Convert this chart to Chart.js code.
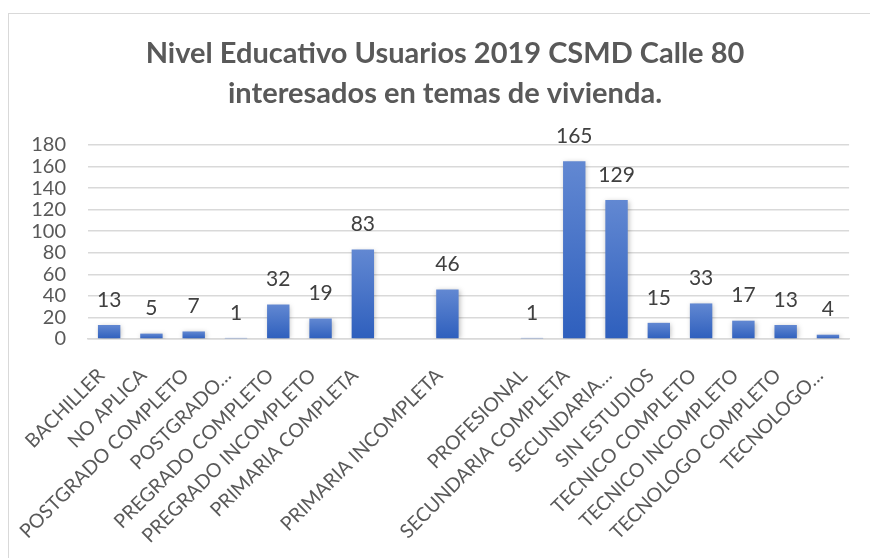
<!DOCTYPE html>
<html>
<head>
<meta charset="utf-8">
<script src="https://cdn.jsdelivr.net/npm/chart.js@4"></script>
<style>
  html, body { margin: 0; padding: 0; background: #fff; }
  #wrap { position: relative; width: 870px; height: 558px; }
  #frame { position: absolute; left: 8px; top: 13px; width: 880px; height: 560px; border: 1px solid #d9d9d9; }
  canvas { position: absolute; left: 0; top: 0; }
</style>
</head>
<body>
<div id="wrap">
  <div id="frame"></div>
  <canvas id="nivel" width="870" height="558"></canvas>
</div>
<script>
const categorias = [
  "BACHILLER", "NO APLICA", "POSTGRADO COMPLETO", "POSTGRADO…",
  "PREGRADO COMPLETO", "PREGRADO INCOMPLETO", "PRIMARIA COMPLETA", "",
  "PRIMARIA INCOMPLETA", "", "PROFESIONAL", "SECUNDARIA COMPLETA",
  "SECUNDARIA…", "SIN ESTUDIOS", "TECNICO COMPLETO", "TECNICO INCOMPLETO",
  "TECNOLOGO COMPLETO", "TECNOLOGO…"
]
const usuarios = [13, 5, 7, 1, 32, 19, 83, null, 46, null, 1, 165, 129, 15, 33, 17, 13, 4]
const yTicks = [0, 20, 40, 60, 80, 100, 120, 140, 160, 180]
const titulo = ["Nivel Educativo Usuarios 2019 CSMD Calle 80", "interesados en temas de vivienda."]

const fontFam = "Lato, 'Open Sans', sans-serif"

// per-bar vertical gradient like the Excel fill
function barFill(ctx) {
  const chart = ctx.chart
  const v = ctx.raw
  if (!chart.chartArea || v == null) return '#4472c4'
  const y = chart.scales.y
  const top = y.getPixelForValue(v)
  const base = y.getPixelForValue(0)
  const g = chart.ctx.createLinearGradient(0, top, 0, base)
  g.addColorStop(0, '#6288d2')
  g.addColorStop(1, '#2e5fbd')
  return g
}

const valueLabels = {
  id: 'valueLabels',
  afterDatasetsDraw(chart) {
    const c = chart.ctx
    const meta = chart.getDatasetMeta(0)
    c.save()
    c.font = "21px " + fontFam
    c.fillStyle = '#404040'
    c.textAlign = 'center'
    c.textBaseline = 'middle'
    meta.data.forEach(function(bar, i) {
      const v = usuarios[i]
      if (v == null) return
      c.fillText(String(v), bar.x, bar.y - 25)
    })
    c.restore()
  }
}

// title centred on the outer chart frame, not on the canvas
const frameTitle = {
  id: 'frameTitle',
  afterDraw(chart) {
    const c = chart.ctx
    c.save()
    c.font = "bold 29px " + fontFam
    c.fillStyle = '#595959'
    c.textAlign = 'center'
    c.textBaseline = 'middle'
    titulo.forEach(function(line, i) {
      c.fillText(line, 445, 54 + i * 40)
    })
    c.restore()
  }
}

const barShadow = {
  id: 'barShadow',
  beforeDatasetsDraw(chart) {
    const c = chart.ctx
    c.save()
    c.shadowColor = 'rgba(0,0,0,0.28)'
    c.shadowBlur = 5
    c.shadowOffsetX = 1
    c.shadowOffsetY = 1
  },
  afterDatasetsDraw(chart) {
    chart.ctx.restore()
  }
}

const config = {
  type: 'bar',
  data: {
    labels: categorias,
    datasets: [{
      data: usuarios,
      backgroundColor: barFill,
      borderWidth: 0,
      barPercentage: 0.53,
      categoryPercentage: 1
    }]
  },
  options: {
    responsive: false,
    animation: false,
    layout: { padding: { left: 0, right: 18, top: 145, bottom: 0 } },
    scales: {
      x: {
        grid: { display: false, drawTicks: false },
        border: { display: true, color: '#d9d9d9', width: 1.5 },
        ticks: {
          autoSkip: false,
          minRotation: 45,
          maxRotation: 45,
          padding: 25,
          labelOffset: -8,
          color: '#595959',
          font: { family: fontFam, size: 19.5 }
        },
        afterFit: function(scale) { scale.height = 219 }
      },
      y: {
        min: 0,
        max: 180,
        afterBuildTicks: function(scale) {
          scale.ticks = yTicks.map(function(v) { return { value: v } })
        },
        grid: { color: '#d9d9d9', lineWidth: 1.5, drawTicks: false },
        border: { display: false },
        ticks: {
          autoSkip: false,
          padding: 22,
          color: '#595959',
          font: { family: fontFam, size: 20 }
        },
        afterFit: function(scale) { scale.width = 88 }
      }
    },
    plugins: {
      title: { display: false },
      legend: { display: false },
      tooltip: { enabled: false }
    }
  },
  plugins: [barShadow, valueLabels, frameTitle]
}

var nivelChart = new Chart(
  document.getElementById('nivel'),
  config
)
</script>
</body>
</html>
